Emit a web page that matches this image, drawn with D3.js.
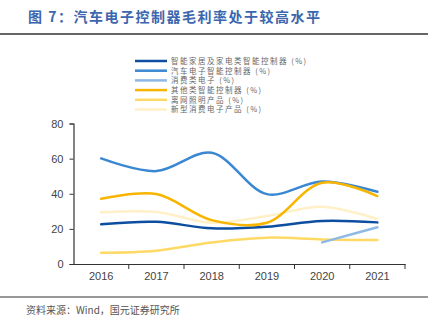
<!DOCTYPE html>
<html><head><meta charset="utf-8">
<script src="https://cdn.jsdelivr.net/npm/d3@7"></script>
<style>body{margin:0;background:#fff}svg{display:block}</style>
</head><body>
<svg id="c" width="436" height="325"></svg>
<script>
const years = ["2016","2017","2018","2019","2020","2021"];
const seriesNames = ["智能家居及家电类智能控制器 (%)","汽车电子智能控制器 (%)","消费类电子 (%)","其他类智能控制器 (%)","离网照明产品 (%)","新型消费电子产品 (%)"];
const homeCtrl = [22.6, 24.0, 20.3, 21.2, 24.5, 23.7];
const autoCtrl = [60.1, 52.9, 63.3, 39.8, 47.0, 41.1];
const consumer = [null, null, null, null, 12.3, 20.9];
const otherCtrl = [37.2, 39.8, 25.0, 23.5, 46.3, 38.7];
const lighting = [6.4, 7.6, 12.3, 15.0, 14.0, 13.7];
const newConsumer = [29.4, 29.6, 23.5, 27.3, 32.6, 25.6];
const yTicks = [0, 20, 40, 60, 80];
const colors = ["#0d4ea0","#3a87d2","#8db9e6","#f7b500","#ffd966","#fff0c8"];
const allSeries = [homeCtrl, autoCtrl, consumer, otherCtrl, lighting, newConsumer];

const svg = d3.select("#c");
const font = "'Noto Sans CJK SC', 'Noto Sans', sans-serif";

// title
svg.append("text").attr("x", 28).attr("y", 22)
  .attr("font-family", font).attr("font-size", 14).attr("font-weight", "bold")
  .attr("fill", "#3c66ad").attr("letter-spacing", 1.5)
  .text("图 7：汽车电子控制器毛利率处于较高水平");
svg.append("line").attr("x1", 0).attr("x2", 428).attr("y1", 34).attr("y2", 34)
  .attr("stroke", "#333").attr("stroke-width", 1.5);
svg.append("line").attr("x1", 0).attr("x2", 428).attr("y1", 297).attr("y2", 297)
  .attr("stroke", "#333").attr("stroke-width", 1.2);
svg.append("text").attr("x", 26).attr("y", 314)
  .attr("font-family", font).attr("font-size", 10).attr("fill", "#555")
  .text("资料来源：Wind，国元证券研究所");

const x = d3.scaleBand().domain(years).range([73.5, 405]);
const y = d3.scaleLinear().domain([0, 80]).range([264, 123.5]);

const gx = svg.append("g").attr("transform", "translate(0,264)")
  .call(d3.axisBottom(x).tickSizeOuter(0).tickSizeInner(0));
gx.select(".domain").attr("stroke", "#333").attr("stroke-width", 1.2);
gx.selectAll(".tick text").attr("dy", 0).attr("y", 16)
  .attr("font-family", "'Liberation Sans', Arial, sans-serif").attr("font-size", 11).attr("fill", "#444");
const bounds = years.map(d => x(d)).concat([x(years[years.length-1]) + x.bandwidth()]);
svg.append("g").selectAll("line").data(bounds.slice(1)).join("line")
  .attr("x1", d => d).attr("x2", d => d).attr("y1", 264).attr("y2", 269)
  .attr("stroke", "#333").attr("stroke-width", 1);

const gy = svg.append("g").attr("transform", "translate(73.5,0)")
  .call(d3.axisLeft(y).tickValues(yTicks).tickSizeOuter(0).tickSize(4));
gy.select(".domain").attr("stroke", "#333").attr("stroke-width", 1.2);
gy.selectAll(".tick line").attr("stroke", "#333");
gy.selectAll(".tick text").attr("x", -10)
  .attr("font-family", "'Liberation Sans', Arial, sans-serif").attr("font-size", 11).attr("fill", "#444");

const line = d3.line()
  .defined(d => d != null)
  .x((d, i) => x(years[i]) + x.bandwidth() / 2)
  .y(d => y(d))
  .curve(d3.curveCatmullRom.alpha(0.5));

const order = [5, 4, 2, 0, 1, 3];
order.forEach(i => {
  svg.append("path").datum(allSeries[i])
    .attr("d", line).attr("fill", "none")
    .attr("stroke", colors[i]).attr("stroke-width", 2.5)
    .attr("stroke-linecap", "round");
});

// legend
const lg = svg.append("g");
seriesNames.forEach((name, i) => {
  const yy = 61 + i * 9.7;
  lg.append("line").attr("x1", 135).attr("x2", 167).attr("y1", yy).attr("y2", yy)
    .attr("stroke", colors[i]).attr("stroke-width", 2.5);
  lg.append("text").attr("x", 171).attr("y", yy + 2.8)
    .attr("font-family", font).attr("font-size", 7.5).attr("fill", "#666")
    .attr("letter-spacing", 1.5)
    .text(name);
});
</script>
</body></html>
